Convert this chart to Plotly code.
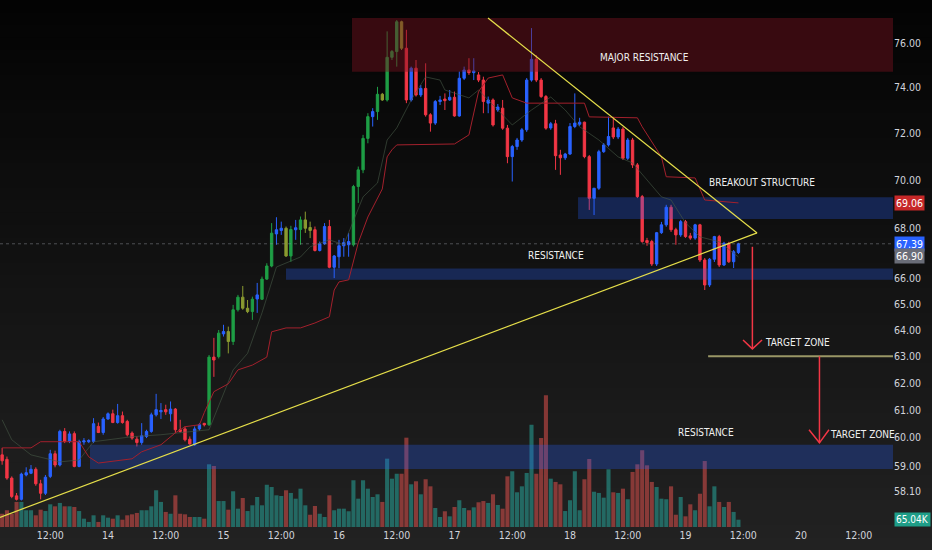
"""1H candlestick chart with zones, trendlines and volume, TradingView style."""

import math

import pandas as pd
import plotly.graph_objects as go

# ---- data (hourly candles) ----
START = "2024-06-13 02:00"

opens = [
    59.39, 59.23, 58.57, 57.95, 57.83, 58.68, 58.74, 58.88, 58.37, 58.04,
    58.63, 59.43, 59.03, 60.23, 59.87, 60.15, 58.98, 59.85, 59.86, 59.87,
    60.41, 60.19, 60.68, 60.87, 60.55, 60.80, 60.59, 60.17, 59.95, 59.83,
    60.05, 60.23, 60.83, 60.94, 61.02, 60.87, 61.04, 60.29, 60.32, 59.95,
    59.75, 60.32, 60.52, 60.47, 62.97, 62.99, 63.85, 63.94, 63.56, 64.78,
    65.27, 64.71, 64.71, 65.20, 65.19, 65.98, 66.50, 67.79, 67.93, 68.02,
    66.90, 67.96, 67.97, 68.02, 68.05, 67.96, 67.12, 67.39, 68.09, 66.45,
    66.87, 67.31, 67.35, 67.35, 69.74, 70.44, 71.78, 72.72, 72.94, 73.70,
    73.45, 75.35, 75.61, 76.97, 75.76, 73.45, 74.86, 73.67, 73.96, 72.80,
    72.44, 73.38, 73.49, 73.45, 73.57, 72.75, 74.41, 74.78, 74.66, 74.56,
    74.33, 73.31, 73.45, 73.01, 73.09, 72.22, 71.00, 71.43, 71.71, 72.15,
    74.33, 75.26, 74.33, 73.60, 72.23, 72.41, 71.07, 70.95, 71.11, 72.29,
    72.39, 72.48, 71.00, 69.25, 69.67, 71.21, 71.50, 72.23, 71.84, 72.18,
    70.93, 71.71, 70.65, 69.32, 67.52, 67.48, 66.58, 67.84, 68.16, 68.88,
    67.96, 67.75, 68.29, 67.71, 67.62, 68.16, 66.74, 65.75, 66.77, 67.68,
    66.54, 67.39, 66.67, 67.04,
]
highs = [
    59.64, 59.33, 58.63, 58.05, 58.76, 58.95, 59.03, 58.95, 58.51, 58.68,
    59.57, 59.54, 60.29, 60.35, 60.23, 60.23, 59.93, 59.99, 59.95, 60.71,
    60.55, 60.75, 60.92, 61.02, 61.23, 60.95, 60.65, 60.23, 60.05, 60.53,
    60.29, 60.91, 61.60, 61.26, 61.20, 61.32, 61.08, 60.65, 60.41, 60.05,
    60.41, 60.53, 60.54, 63.05, 63.70, 64.00, 64.20, 64.13, 64.97, 65.36,
    65.71, 65.16, 65.29, 65.83, 66.08, 66.61, 68.23, 68.47, 68.29, 68.09,
    68.12, 68.36, 68.50, 68.70, 68.29, 68.09, 67.48, 68.23, 68.36, 66.94,
    67.55, 67.62, 67.82, 69.81, 70.58, 71.93, 72.87, 73.09, 74.03, 73.76,
    76.53, 75.68, 77.05, 77.02, 76.60, 74.93, 75.23, 74.11, 75.08, 72.87,
    73.45, 73.63, 73.74, 73.89, 73.82, 74.71, 74.93, 75.31, 75.31, 74.69,
    74.48, 73.60, 73.52, 73.27, 73.45, 72.36, 71.50, 71.80, 72.23, 74.42,
    76.68, 75.45, 74.42, 73.67, 72.49, 72.58, 71.29, 71.16, 72.44, 73.74,
    72.67, 72.50, 71.07, 69.67, 71.29, 71.58, 72.72, 72.71, 72.27, 72.27,
    71.80, 71.80, 70.73, 69.39, 67.63, 67.55, 67.87, 68.28, 68.98, 68.98,
    68.04, 68.36, 68.36, 67.83, 68.20, 68.20, 66.82, 66.82, 67.71, 67.75,
    67.47, 67.47, 67.14, 67.43,
]
lows = [
    59.04, 58.51, 57.87, 57.79, 57.79, 58.63, 58.71, 58.30, 57.83, 57.98,
    58.57, 58.95, 58.98, 59.81, 59.81, 58.95, 58.95, 59.75, 59.81, 59.81,
    60.17, 60.11, 60.65, 60.53, 60.51, 60.51, 60.05, 59.93, 59.69, 59.75,
    59.99, 60.18, 60.77, 60.68, 60.83, 60.59, 60.17, 60.19, 59.87, 59.75,
    59.71, 60.26, 60.41, 60.43, 62.23, 62.92, 63.75, 63.11, 63.43, 64.71,
    64.78, 64.65, 64.39, 64.66, 65.16, 65.95, 66.45, 67.35, 67.75, 66.86,
    66.67, 67.55, 67.35, 67.83, 67.62, 67.08, 67.08, 67.35, 66.41, 66.02,
    66.41, 66.87, 66.87, 67.28, 69.06, 70.30, 71.57, 72.29, 72.58, 73.41,
    73.38, 75.23, 74.93, 75.68, 73.31, 73.38, 73.60, 73.58, 72.72, 72.07,
    72.36, 73.23, 73.01, 73.41, 72.72, 72.72, 74.33, 74.56, 74.33, 74.24,
    72.87, 72.87, 72.29, 72.93, 72.15, 70.72, 69.95, 71.29, 71.63, 72.06,
    74.26, 74.24, 73.54, 72.15, 72.15, 70.44, 70.23, 70.86, 71.07, 72.22,
    72.32, 70.93, 68.77, 68.56, 69.60, 71.16, 71.43, 71.75, 71.75, 70.86,
    70.86, 70.52, 69.26, 67.43, 67.31, 66.50, 66.50, 67.79, 68.08, 67.87,
    67.35, 67.67, 67.63, 67.55, 67.55, 66.66, 65.55, 65.67, 66.66, 66.46,
    66.50, 66.62, 66.42, 66.98,
]
closes = [
    59.18, 58.57, 57.93, 57.83, 58.71, 58.76, 58.88, 58.37, 58.04, 58.60,
    59.43, 59.03, 60.23, 59.87, 60.14, 58.98, 59.87, 59.89, 59.90, 60.51,
    60.19, 60.68, 60.87, 60.55, 60.80, 60.55, 60.11, 59.99, 59.83, 60.07,
    60.23, 60.83, 61.02, 60.99, 60.94, 61.04, 60.29, 60.23, 59.93, 59.78,
    60.32, 60.47, 60.47, 62.97, 62.86, 63.88, 63.94, 63.56, 64.78, 65.27,
    64.84, 64.84, 65.19, 65.36, 65.98, 66.50, 67.82, 67.96, 68.02, 66.90,
    67.97, 68.04, 68.36, 68.36, 67.93, 67.12, 67.39, 68.09, 66.45, 66.90,
    67.31, 67.44, 67.48, 69.74, 70.44, 71.78, 72.72, 72.94, 73.70, 73.45,
    75.35, 75.61, 76.97, 75.76, 73.45, 74.86, 73.67, 73.96, 72.80, 72.44,
    73.38, 73.45, 73.42, 73.57, 72.75, 74.41, 74.78, 74.66, 74.74, 74.33,
    73.38, 73.45, 72.36, 73.14, 72.22, 71.00, 71.43, 71.71, 72.15, 74.33,
    75.26, 74.33, 73.60, 72.22, 72.41, 71.04, 70.95, 71.11, 72.29, 72.44,
    72.48, 71.00, 69.25, 69.67, 71.21, 71.50, 71.86, 71.84, 72.18, 70.93,
    71.71, 70.65, 69.32, 67.48, 67.44, 66.58, 67.84, 68.16, 68.88, 67.96,
    67.75, 68.29, 67.68, 67.62, 68.16, 66.74, 65.75, 66.77, 67.68, 66.54,
    67.41, 66.67, 67.07, 67.39,
]
# bar paint as seen on the chart: b blue, r red, g green, o olive
paint = (
    "rrrrbbbrrb" "brbrbrbbbb" "rbbrbrrrrb" "bbbbrbrrrr" "bbrgrgbogg"
    "oogbgggbbo" "gbgoorbbrb" "bbbggggbgo" "gggorbrbrr" "bbrbrbbrbr"
    "rbrbrrbbbb" "brrrbrrbbb" "brrbbbbrbr" "brrrrrbbbr" "rbrrbrrbbr"
    "brbb"
)
volume_k = [
    118, 149, 118, 223, 223, 149, 149, 104, 154, 142,
    202, 184, 214, 184, 184, 178, 142, 74, 45, 104,
    45, 104, 83, 74, 104, 65, 104, 113, 125, 149,
    149, 184, 327, 223, 134, 118, 282, 118, 113, 89,
    89, 89, 74, 558, 543, 231, 231, 154, 318, 163,
    258, 142, 193, 267, 193, 376, 356, 282, 276, 327,
    303, 252, 341, 193, 109, 187, 118, 89, 282, 149,
    163, 163, 140, 416, 252, 416, 341, 267, 291, 223,
    608, 430, 474, 474, 795, 380, 407, 291, 425, 362,
    169, 89, 140, 95, 178, 238, 169, 149, 175, 220,
    231, 214, 291, 196, 163, 451, 496, 309, 362, 481,
    910, 474, 792, 1172, 430, 401, 380, 142, 238, 496,
    149, 425, 605, 314, 303, 261, 514, 309, 303, 341,
    247, 490, 558, 683, 549, 401, 356, 252, 247, 362,
    109, 267, 95, 202, 149, 296, 587, 184, 362, 223,
    178, 223, 134, 65.04,
]

# baseline (red) and conversion (grey) indicator lines: candle index -> value
kijun_idx = [0, 6, 8, 16, 18, 20, 27, 29, 33, 36, 38, 41, 42, 44, 47, 49, 52, 55, 56, 59,
             62, 65, 68, 69, 70, 72, 74, 76, 79, 80, 81, 82, 94, 97, 99, 101, 104, 106, 109, 121,
             122, 132, 133, 136, 137, 138, 144, 146, 153]
kijun_val = [59.64, 59.64, 59.86, 59.86, 59.32, 59.10, 59.25, 59.50, 59.75, 60.18,
             60.40, 60.47, 60.91, 61.68, 61.97, 62.49, 62.67, 62.97, 63.93, 64.08,
             64.08, 64.27, 64.51, 65.55, 65.87, 65.95, 67.43, 68.48, 69.64, 70.99,
             71.29, 71.50, 71.54, 71.93, 73.82, 74.42, 74.56, 73.54, 73.31, 73.31,
             72.71, 72.67, 72.28, 71.29, 70.99, 70.15, 70.10, 69.18, 69.06]
tenkan_idx = [0, 2, 6, 12, 16, 19, 27, 33, 39, 43, 48, 51, 54, 57, 62, 64, 68, 71, 75, 78,
              80, 82, 85, 88, 91, 92, 97, 99, 103, 106, 110, 114, 117, 120, 124, 128, 131,
              137, 139, 142, 145, 149, 153]
tenkan_val = [60.65, 59.93, 59.39, 59.14, 59.21, 59.86, 60.04, 60.11, 60.22, 60.29,
              62.49, 63.11, 64.66, 66.46, 66.86, 67.27, 67.55, 67.35, 69.31, 69.89,
              71.71, 72.23, 73.45, 74.47, 74.33, 73.89, 73.54, 73.89, 73.01, 72.36,
              73.01, 73.58, 73.01, 72.28, 71.71, 70.99, 70.73, 69.31, 69.18, 68.24,
              67.67, 67.47, 66.86]

# drawn levels and zones
major_res = ("2024-06-16 02:42", 74.70, 77.14)
breakout_zone = ("2024-06-18 01:40", 68.40, 69.29)
mid_res = ("2024-06-15 12:59", 65.95, 66.40)
low_res = ("2024-06-13 20:16", 58.89, 59.75)
zone_end = "2024-06-21 06:00"
target_level = ("2024-06-19 04:42", 63.00)
rise_line_t = ["2024-06-13 01:33", "2024-06-19 14:52"]
rise_line_p = [57.21, 67.83]
fall_line_t = ["2024-06-17 06:58", "2024-06-19 14:52"]
fall_line_p = [77.14, 67.83]
arrow1 = ("2024-06-19 13:54", 67.27, 63.28, "2024-06-19 11:57", "2024-06-19 15:54", 63.62)
arrow2 = ("2024-06-20 03:50", 63.00, 59.82, "2024-06-20 01:40", "2024-06-20 05:49", 60.29)
labels = [
    ("MAJOR RESISTANCE", "2024-06-18 15:24", 75.32),
    ("BREAKOUT STRUCTURE", "2024-06-19 15:54", 69.89),
    ("RESISTANCE", "2024-06-17 21:06", 66.90),
    ("TARGET ZONE", "2024-06-19 23:12", 63.51),
    ("RESISTANCE", "2024-06-19 04:18", 60.18),
    ("TARGET ZONE", "2024-06-20 12:42", 60.11),
]
price_tags = [(69.06, "#c62828"), (67.39, "#2962ff"), (66.90, "#6a6d78")]
last_price = 67.39

y_ticks = [58.1, 59, 60, 61, 62, 63, 64, 65, 66, 68, 70, 72, 74, 76]
x_ticks = ["2024-06-13 12:00", "2024-06-14", "2024-06-14 12:00", "2024-06-15",
           "2024-06-15 12:00", "2024-06-16", "2024-06-16 12:00", "2024-06-17",
           "2024-06-17 12:00", "2024-06-18", "2024-06-18 12:00", "2024-06-19",
           "2024-06-19 12:00", "2024-06-20", "2024-06-20 12:00"]
x_tick_text = ["12:00", "14", "12:00", "15", "12:00", "16", "12:00", "17",
               "12:00", "18", "12:00", "19", "12:00", "20", "12:00"]
X_RANGE = ["2024-06-13 01:33:30", "2024-06-20 19:07"]
PRICE_RANGE = (56.88, 77.98)
VOL_TOP = 4690

# ---- style ----
W, H = 932, 550
M_R, M_B = 39, 23
FONT = "Liberation Sans Narrow, DejaVu Sans Condensed, sans-serif"
PAINT = {"b": "#2962ff", "r": "#f23645", "g": "#1e9e45", "o": "#8a9a30"}
BLUE_ZONE = "rgba(41,98,255,0.28)"
RED_ZONE = "rgba(120,18,30,0.45)"

times = pd.date_range(START, periods=len(closes), freq="h")

fig = go.Figure()

# volume on the main (hidden) axis, so price marks sit above it
vol_colors = ["rgba(38,166,154,0.55)" if c >= o else "rgba(239,83,80,0.5)"
              for o, c in zip(opens, closes)]
fig.add_trace(go.Bar(x=times, y=volume_k, marker_color=vol_colors, marker_line_width=0,
                     hoverinfo="skip", showlegend=False))


def zone(x0, lo, hi, color):
    fig.add_trace(go.Scatter(x=[x0, zone_end, zone_end, x0, x0], y=[lo, lo, hi, hi, lo],
                             mode="lines", fill="toself", fillcolor=color, line_width=0,
                             yaxis="y2", hoverinfo="skip", showlegend=False))


def line(xs, ys, color, width, dash="solid"):
    fig.add_trace(go.Scatter(x=xs, y=ys, mode="lines", line=dict(color=color, width=width, dash=dash),
                             yaxis="y2", hoverinfo="skip", showlegend=False))


zone(major_res[0], major_res[1], major_res[2], RED_ZONE)
zone(breakout_zone[0], breakout_zone[1], breakout_zone[2], BLUE_ZONE)
zone(mid_res[0], mid_res[1], mid_res[2], BLUE_ZONE)
zone(low_res[0], low_res[1], low_res[2], BLUE_ZONE)

line(X_RANGE, [last_price, last_price], "rgba(140,143,152,0.5)", 1, "dot")
line([times[i] for i in tenkan_idx], tenkan_val, "rgba(70,88,70,0.6)", 1)
line([times[i] for i in kijun_idx], kijun_val, "#a3202c", 1)

for code, colour in PAINT.items():
    pick = [p == code for p in paint]
    fig.add_trace(go.Candlestick(
        x=times,
        open=[v if k else None for v, k in zip(opens, pick)],
        high=[v if k else None for v, k in zip(highs, pick)],
        low=[v if k else None for v, k in zip(lows, pick)],
        close=[v if k else None for v, k in zip(closes, pick)],
        increasing=dict(line=dict(color=colour, width=1), fillcolor=colour),
        decreasing=dict(line=dict(color=colour, width=1), fillcolor=colour),
        whiskerwidth=0, yaxis="y2", hoverinfo="skip", showlegend=False,
    ))

line(rise_line_t, rise_line_p, "#e6df4a", 1.2)
line(fall_line_t, fall_line_p, "#e6df4a", 1.2)
line([target_level[0], zone_end], [target_level[1], target_level[1]], "#9a9766", 2)
for ax, top, tip, left, right, arm in (arrow1, arrow2):
    line([ax, ax], [top, tip], "#f23645", 1.5)
    line([left, ax, right], [arm, tip, arm], "#f23645", 1.5)

for text, tx, ty in labels:
    fig.add_annotation(x=tx, y=math.log10(ty), yref="y2", text=text, showarrow=False,
                       font=dict(family=FONT, size=10, color="#f0f0f0"))

for val, col in price_tags:
    fig.add_annotation(xref="paper", x=1, xanchor="left", xshift=1, yref="y2", y=math.log10(val),
                       text=f"{val:.2f}", bgcolor=col, showarrow=False, borderpad=1,
                       font=dict(family=FONT, size=10.5, color="#ffffff"))
fig.add_annotation(xref="paper", x=1, xanchor="left", xshift=1, yref="y", y=volume_k[-1],
                   text=f"{volume_k[-1]:.2f}K", bgcolor="#1f9e88", showarrow=False, borderpad=1,
                   font=dict(family=FONT, size=10, color="#ffffff"))

# dark vertical gradient behind everything
n_bands = 44
plot_h = H - M_B
for i in range(n_bands):
    top_px = H * i / n_bands
    bot_px = H * (i + 1) / n_bands + 1
    shade = round(3 + 31 * (i + 0.5) / n_bands)
    fig.add_shape(type="rect", xref="paper", yref="paper", layer="below",
                  x0=0, x1=W / (W - M_R), y0=1 - bot_px / plot_h, y1=1 - top_px / plot_h,
                  fillcolor=f"rgb({shade},{shade},{shade})", line_width=0)

fig.update_layout(
    width=W, height=H,
    margin=dict(l=0, r=M_R, t=0, b=M_B),
    paper_bgcolor="#0d0d0d", plot_bgcolor="rgba(0,0,0,0)",
    bargap=0.15, hovermode=False, showlegend=False,
    font=dict(family=FONT, size=10.5, color="#d1d4dc"),
    xaxis=dict(type="date", range=X_RANGE, rangeslider=dict(visible=False),
               tickvals=x_ticks, ticktext=x_tick_text, showgrid=False, zeroline=False,
               showline=False, ticks="", tickfont=dict(size=10.5, color="#d1d4dc")),
    yaxis=dict(range=[0, VOL_TOP], visible=False, fixedrange=True),
    yaxis2=dict(type="log", overlaying="y", side="right",
                range=[math.log10(PRICE_RANGE[0]), math.log10(PRICE_RANGE[1])],
                tickvals=y_ticks, ticktext=[f"{v:.2f}" for v in y_ticks],
                showgrid=False, zeroline=False, showline=False, ticks="",
                tickfont=dict(size=10.5, color="#d1d4dc")),
)

# the page margin would push the figure off the 932x550 window
fig.write_html("out.html", config={"displayModeBar": False},
               post_script="document.body.style.margin = '0';")
